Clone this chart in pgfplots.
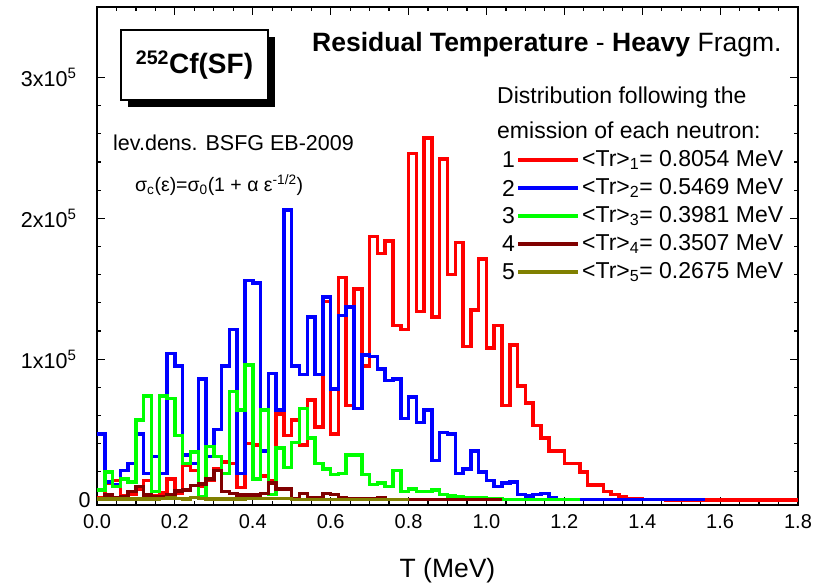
\documentclass[border=0pt]{standalone}
\usepackage{fontspec}
\setmainfont{Liberation Sans}
\usepackage{pgfplots}
\pgfplotsset{compat=1.18}
\definecolor{cRed}{RGB}{255,0,0}
\definecolor{cBlue}{RGB}{0,0,255}
\definecolor{cGreen}{RGB}{0,255,0}
\definecolor{cBrown}{RGB}{128,0,0}
\definecolor{cOlive}{RGB}{128,128,0}
\begin{document}
\begin{tikzpicture}
\begin{axis}[
  at={(0,0)}, anchor=south west,
  scale only axis, width=701pt, height=498pt,
  xmin=0, xmax=1.8, ymin=-3500, ymax=350000,
  xtick={0,0.2,0.4,0.6,0.8,1.0,1.2,1.4,1.6,1.8},
  xticklabels={0.0,0.2,0.4,0.6,0.8,1.0,1.2,1.4,1.6,1.8},
  minor x tick num=3,
  ytick={0,100000,200000,300000},
  yticklabels={0,1x10\textsuperscript{5}\rule{14pt}{0pt},2x10\textsuperscript{5}\rule{14pt}{0pt},3x10\textsuperscript{5}\rule{14pt}{0pt}},
  minor y tick num=4,
  scaled y ticks=false,
  tick align=inside, tick pos=both,
  major tick length=8pt, minor tick length=4pt,
  axis line style={line width=1.2pt},
  every tick/.style={black, line width=1.2pt},
  xticklabel style={yshift=-6pt, font=\fontsize{20}{23}\selectfont},
  yticklabel style={xshift=-3pt, font=\fontsize{21.5}{24}\selectfont},
  xlabel={T (MeV)},
  xlabel style={at={(axis description cs:0.5,0)}, anchor=center, yshift=-66pt, font=\fontsize{26.5}{30}\selectfont},
  /pgf/number format/assume math mode=true,
  const plot, no markers,
  every axis plot/.append style={line width=3.5pt, line join=miter},
]
\addplot[cRed] coordinates {(0,2000)(0.02,12000)(0.04,14000)(0.06,3000)(0.08,4000)(0.10,8000)(0.12,14000)(0.14,3000)(0.16,5000)(0.18,15000)(0.20,5000)(0.22,25000)(0.24,21000)(0.26,9500)(0.28,14000)(0.30,22000)(0.32,27000)(0.34,26000)(0.36,9000)(0.38,40000)(0.40,39000)(0.42,17000)(0.44,14000)(0.46,61000)(0.48,46000)(0.50,57000)(0.52,39000)(0.54,71000)(0.56,52000)(0.58,141000)(0.60,47000)(0.62,158000)(0.64,67000)(0.66,150000)(0.68,95000)(0.70,187000)(0.72,175000)(0.74,184000)(0.76,124000)(0.78,121000)(0.80,246000)(0.82,134000)(0.84,257000)(0.86,130000)(0.88,242000)(0.90,160000)(0.92,183000)(0.94,109000)(0.96,135000)(0.98,171000)(1.00,108000)(1.02,124000)(1.04,67000)(1.06,110000)(1.08,81000)(1.10,69000)(1.12,53000)(1.14,44000)(1.16,35000)(1.20,26000)(1.24,20000)(1.26,10600)(1.30,6000)(1.32,4000)(1.34,2400)(1.36,1000)(1.40,500)(1.44,300)(1.46,0)(1.8,0)};
\addplot[cBlue] coordinates {(0,47000)(0.02,13000)(0.04,11000)(0.06,21000)(0.08,26000)(0.10,47000)(0.12,19000)(0.14,31000)(0.16,19000)(0.18,104000)(0.20,95000)(0.22,32000)(0.24,26000)(0.26,86000)(0.28,31000)(0.30,50000)(0.32,95000)(0.34,121000)(0.36,19000)(0.38,156000)(0.40,154000)(0.42,35000)(0.44,90000)(0.46,64000)(0.48,206000)(0.50,95000)(0.52,89000)(0.54,130000)(0.56,89000)(0.58,144000)(0.60,79000)(0.62,131000)(0.64,137000)(0.66,65000)(0.68,103000)(0.70,102000)(0.72,93000)(0.74,85000)(0.76,86000)(0.78,58000)(0.80,73000)(0.82,55000)(0.84,64000)(0.86,28000)(0.88,48000)(0.90,47000)(0.92,19000)(0.94,22000)(0.96,35000)(0.98,20000)(1.00,14000)(1.02,9500)(1.04,12000)(1.06,13000)(1.08,4000)(1.10,3000)(1.12,4000)(1.14,4500)(1.16,1500)(1.18,500)(1.56,500)};
\addplot[cGreen] coordinates {(0,7000)(0.02,20000)(0.04,9500)(0.06,15000)(0.08,13000)(0.10,57000)(0.12,74000)(0.14,6000)(0.16,74000)(0.18,72000)(0.20,46000)(0.22,26000)(0.24,34000)(0.26,2400)(0.28,38000)(0.30,31000)(0.32,19000)(0.34,77000)(0.36,64000)(0.38,96000)(0.40,15000)(0.42,64000)(0.44,4000)(0.46,37000)(0.48,23000)(0.50,41000)(0.52,65000)(0.54,44000)(0.56,26000)(0.58,22000)(0.60,18000)(0.62,19000)(0.64,32000)(0.68,18000)(0.70,11000)(0.72,12000)(0.74,9500)(0.76,21000)(0.78,6000)(0.80,8000)(0.82,6000)(0.86,7000)(0.88,4000)(0.90,3000)(0.92,2500)(0.94,2000)(0.98,1500)(1.00,1200)(1.02,1000)(1.04,500)(1.24,500)};
\addplot[cBrown] coordinates {(0,1000)(0.02,3500)(0.04,1500)(0.06,2500)(0.08,6000)(0.10,9500)(0.12,3500)(0.14,2500)(0.18,3500)(0.20,6500)(0.22,7000)(0.24,10500)(0.26,11500)(0.28,15000)(0.30,21000)(0.32,6000)(0.34,4700)(0.36,3500)(0.42,4700)(0.44,12000)(0.46,8000)(0.50,1200)(0.52,4700)(0.54,1700)(0.58,4800)(0.60,4000)(0.62,1500)(0.64,1200)(0.68,1000)(0.72,1700)(0.74,500)(0.78,300)(1.04,300)};
\addplot[cOlive] coordinates {(0,700)(0.16,1200)(0.18,1500)(0.20,1200)(0.22,800)(0.24,1800)(0.26,1000)(0.28,800)(0.38,1000)(0.50,500)(0.80,500)};
\end{axis}
% annotation box
\fill[black] (31pt,398pt) rectangle (178pt,468pt);
\draw[line width=1.2pt, fill=white] (24pt,405pt) rectangle (171pt,475pt);
\node[inner sep=0pt, font=\bfseries\fontsize{28}{32}\selectfont] at (97.5pt,440pt) {\textsuperscript{252}Cf(SF)};
\node[anchor=west, inner sep=0pt, font=\fontsize{26.5}{30}\selectfont] at (215pt,460pt) {\textbf{Residual Temperature} - \textbf{Heavy} Fragm.};
\begin{scope}[every node/.style={anchor=west, inner sep=0pt, font=\fontsize{23}{26}\selectfont}]
\node at (400pt,407pt) {Distribution following the};
\node at (400pt,375pt) {emission of each neutron:};
\node[font=\fontsize{21.5}{25}\selectfont] at (16pt,362pt) {lev.dens. BSFG EB-2009};
\node[font=\fontsize{19.5}{23}\selectfont] at (38pt,320pt) {σ\textsubscript{c}(ε)=σ\textsubscript{0}(1 + α ε\textsuperscript{-1/2})};
\node at (405pt,345pt) {1}; \draw[cRed, line width=3.5pt] (421pt,345pt) -- (481pt,345pt); \node at (485pt,345pt) {<Tr>\textsubscript{1}= 0.8054 MeV};
\node at (405pt,317pt) {2}; \draw[cBlue, line width=3.5pt] (421pt,317pt) -- (481pt,317pt); \node at (485pt,317pt) {<Tr>\textsubscript{2}= 0.5469 MeV};
\node at (405pt,289pt) {3}; \draw[cGreen, line width=3.5pt] (421pt,289pt) -- (481pt,289pt); \node at (485pt,289pt) {<Tr>\textsubscript{3}= 0.3981 MeV};
\node at (405pt,261pt) {4}; \draw[cBrown, line width=3.5pt] (421pt,261pt) -- (481pt,261pt); \node at (485pt,261pt) {<Tr>\textsubscript{4}= 0.3507 MeV};
\node at (405pt,233pt) {5}; \draw[cOlive, line width=3.5pt] (421pt,233pt) -- (481pt,233pt); \node at (485pt,233pt) {<Tr>\textsubscript{5}= 0.2675 MeV};
\end{scope}
\pgfresetboundingbox
\path[use as bounding box] (-97pt,-81pt) rectangle (733pt,505pt);
\end{tikzpicture}
\end{document}
